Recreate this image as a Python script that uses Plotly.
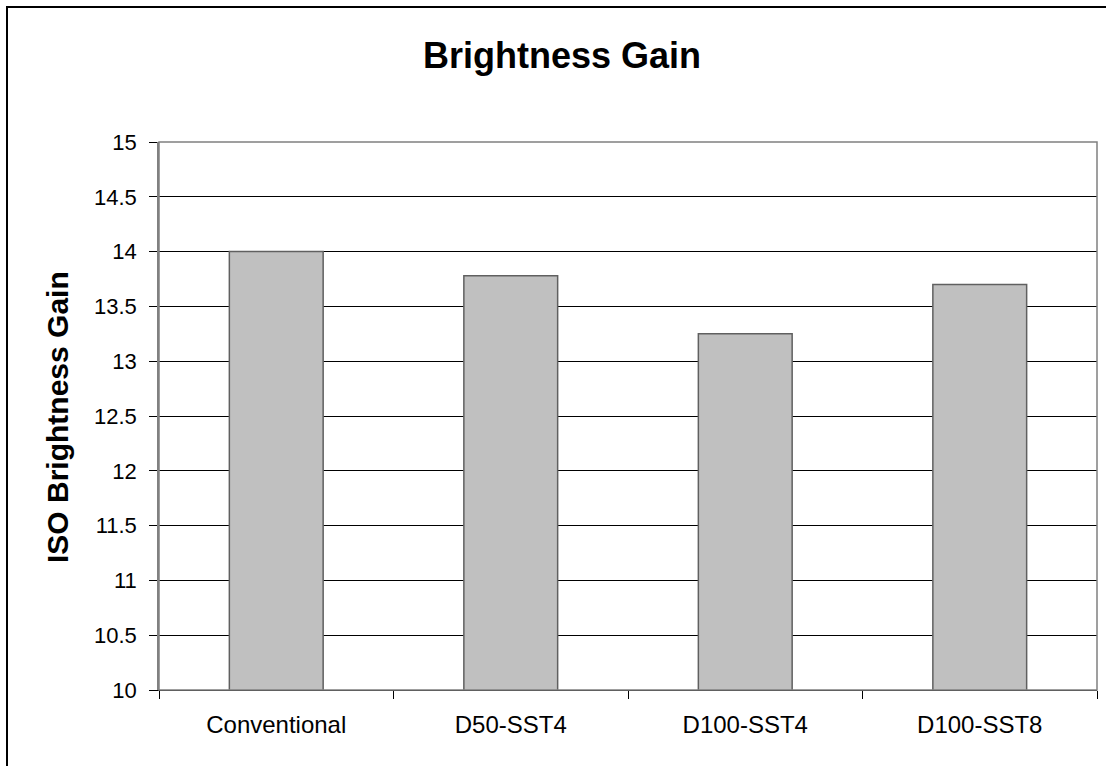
import plotly.graph_objects as go

categories = ["Conventional", "D50-SST4", "D100-SST4", "D100-SST8"]
values = [14.0, 13.78, 13.25, 13.70]
y_ticks = [10, 10.5, 11, 11.5, 12, 12.5, 13, 13.5, 14, 14.5, 15]

W, H = 1106, 766
ML, MR, MT, MB = 159, 9, 142, 76
PW = W - ML - MR
PH = H - MT - MB

def px_x(p):
    return (p - ML) / PW

def px_y(p):
    return (H - MB - p) / PH

font = "Liberation Sans, Arial, sans-serif"

fig = go.Figure()
fig.add_trace(go.Bar(
    x=categories, y=values,
    marker=dict(color="#C0C0C0", line=dict(color="#606060", width=1.5)),
))

fig.update_layout(
    width=W, height=H,
    margin=dict(l=ML, r=MR, t=MT, b=MB, pad=0),
    paper_bgcolor="white", plot_bgcolor="white",
    bargap=0.6,
    showlegend=False,
    font=dict(family=font, color="black"),
    xaxis=dict(
        showline=True, linecolor="black", linewidth=1,
        ticks="outside", tickson="boundaries", ticklen=8, tickcolor="black",
        tickfont=dict(size=24, family=font, color="black"),
        showgrid=False, ticklabelstandoff=13,
    ),
    yaxis=dict(
        range=[10, 15], tickvals=y_ticks,
        showline=True, linecolor="#808080", linewidth=1.5,
        ticks="outside", ticklen=8, tickcolor="black",
        showgrid=True, gridcolor="black", gridwidth=1,
        zeroline=False,
        tickfont=dict(size=22, family=font, color="black"),
        ticklabelstandoff=8,
    ),
    shapes=[
        dict(type="rect", xref="paper", yref="paper", x0=0, x1=1, y0=0, y1=1,
             line=dict(color="#808080", width=1.5), layer="above"),
        dict(type="rect", xref="paper", yref="paper",
             x0=px_x(7), x1=1.5, y0=-0.5, y1=px_y(7),
             line=dict(color="black", width=2), layer="above"),
    ],
    annotations=[
        dict(text="<b>Brightness Gain</b>", xref="paper", yref="paper",
             x=px_x(562), y=px_y(55), xanchor="center", yanchor="middle",
             showarrow=False, font=dict(size=36, family=font, color="black")),
        dict(text="<b>ISO Brightness Gain</b>", xref="paper", yref="paper",
             x=px_x(57), y=px_y(417), xanchor="center", yanchor="middle",
             textangle=-90, showarrow=False,
             font=dict(size=30, family=font, color="black")),
    ],
)

fig.write_html("out.html",
               config={"displayModeBar": False},
               post_script="document.body.style.margin='0';document.body.style.overflow='hidden';")
